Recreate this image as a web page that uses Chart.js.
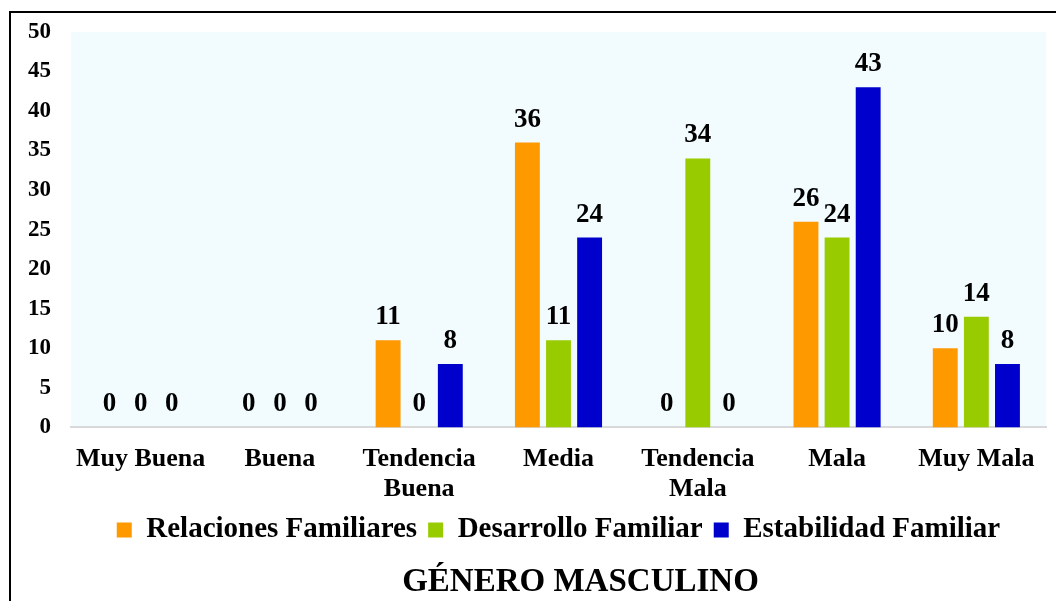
<!DOCTYPE html>
<html>
<head>
<meta charset="utf-8">
<script src="https://cdn.jsdelivr.net/npm/chart.js@4.4.1/dist/chart.umd.min.js"></script>
<style>
  body { margin: 0; background: #fff; overflow: hidden; }
  #frame {
    position: absolute; left: 9px; top: 11px;
    width: 1047px; height: 590px;
    border-left: 2px solid #000; border-top: 2px solid #000;
  }
  #chart { position: absolute; left: 11px; top: -2px; }
</style>
</head>
<body>
<div id="frame"></div>
<canvas id="chart" width="1045" height="604"></canvas>
<script>
// Data
const categories = ["Muy Buena", "Buena", ["Tendencia", "Buena"], "Media", ["Tendencia", "Mala"], "Mala", "Muy Mala"];
const relaciones = [0, 0, 11, 36, 0, 26, 10];
const desarrollo = [0, 0, 0, 11, 34, 24, 14];
const estabilidad = [0, 0, 8, 24, 0, 43, 8];
const yTicks = [0, 5, 10, 15, 20, 25, 30, 35, 40, 45, 50];

const serif = "'Liberation Serif', 'Times New Roman', serif";

// light plot background
const plotBg = {
  id: "plotBg",
  beforeDraw(chart) {
    const { ctx, chartArea: a } = chart;
    ctx.save();
    ctx.fillStyle = "#F2FBFD";
    ctx.fillRect(a.left, a.top, a.right - a.left, a.bottom - a.top);
    ctx.restore();
  }
};

// value labels above the bars
const valueLabels = {
  id: "valueLabels",
  afterDatasetsDraw(chart) {
    const ctx = chart.ctx;
    ctx.save();
    ctx.font = "bold 27px " + serif;
    ctx.fillStyle = "#000";
    ctx.textAlign = "center";
    ctx.textBaseline = "alphabetic";
    chart.data.datasets.forEach((ds, i) => {
      chart.getDatasetMeta(i).data.forEach((bar, j) => {
        ctx.fillText(ds.data[j], bar.x, bar.y - 16);
      });
    });
    ctx.restore();
  }
};

// title sits a bit right of the plot centre in the original
const titleNudge = {
  id: "titleNudge",
  afterLayout(chart) {
    if (chart.titleBlock) {
      chart.titleBlock.left += 22;
      chart.titleBlock.right += 22;
    }
  }
};

const ctx = document.getElementById("chart").getContext("2d");
new Chart(ctx, {
  type: "bar",
  data: {
    labels: categories,
    datasets: [
      { label: "Relaciones Familiares", data: relaciones, backgroundColor: "#FF9900" },
      { label: "Desarrollo Familiar", data: desarrollo, backgroundColor: "#99CC00" },
      { label: "Estabilidad Familiar", data: estabilidad, backgroundColor: "#0000CC" }
    ]
  },
  options: {
    responsive: false,
    animation: false,
    layout: { padding: { top: 7, right: 10, left: 0, bottom: 0 } },
    datasets: { bar: { categoryPercentage: 0.67, barPercentage: 0.8 } },
    scales: {
      x: {
        afterFit: (s) => { s.height = 77; },
        grid: { display: false, drawTicks: false },
        border: { color: "#D9D9D9", width: 2 },
        ticks: {
          color: "#000", padding: 17, maxRotation: 0, autoSkip: false,
          font: { family: serif, size: 26, weight: "bold", lineHeight: 1.15 }
        }
      },
      y: {
        min: 0, max: 50,
        afterBuildTicks: (s) => { s.ticks = yTicks.map(v => ({ value: v })); },
        afterFit: (s) => { s.width = 60; },
        grid: { display: false, drawTicks: false },
        border: { display: false },
        ticks: {
          color: "#000", padding: 20,
          font: { family: serif, size: 23, weight: "bold" }
        }
      }
    },
    plugins: {
      legend: {
        position: "bottom",
        fullSize: false,
        labels: {
          color: "#000", boxWidth: 15, boxHeight: 15, padding: 11,
          font: { family: serif, size: 29, weight: "bold", lineHeight: 1 }
        }
      },
      title: {
        display: true,
        position: "bottom",
        fullSize: false,
        text: "GÉNERO MASCULINO",
        color: "#000",
        padding: { top: 8, bottom: 0 },
        font: { family: serif, size: 33, weight: "bold" }
      },
      tooltip: { enabled: false }
    }
  },
  plugins: [plotBg, valueLabels, titleNudge]
});
</script>
</body>
</html>
